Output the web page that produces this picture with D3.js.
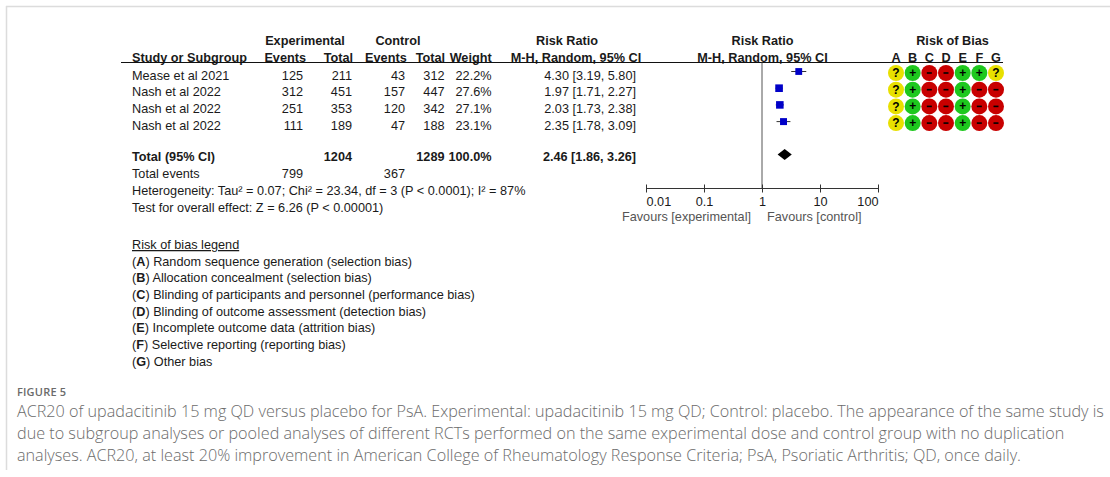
<!DOCTYPE html>
<html>
<head>
<meta charset="utf-8">
<script src="https://cdn.jsdelivr.net/npm/d3@7"></script>
<style>
  html, body { margin: 0; padding: 0; background: #fff; }
  svg { display: block; }
</style>
</head>
<body>
<svg id="fig" width="1110" height="477"></svg>
<script>
// ---- data ----
const studies     = ["Mease et al 2021", "Nash et al 2022", "Nash et al 2022", "Nash et al 2022"];
const expEvents   = [125, 312, 251, 111];
const expTotal    = [211, 451, 353, 189];
const ctrlEvents  = [43, 157, 120, 47];
const ctrlTotal   = [312, 447, 342, 188];
const weights     = [22.2, 27.6, 27.1, 23.1];
const riskRatio   = [4.30, 1.97, 2.03, 2.35];
const ciLower     = [3.19, 1.71, 1.73, 1.78];
const ciUpper     = [5.80, 2.27, 2.38, 3.09];
const biasDomains = ["A", "B", "C", "D", "E", "F", "G"];
const biasJudgements = [
  ["?", "+", "-", "-", "+", "+", "?"],
  ["?", "+", "-", "-", "+", "-", "-"],
  ["?", "+", "-", "-", "+", "-", "-"],
  ["?", "+", "-", "-", "+", "-", "-"]
];
const pooledRR    = [2.46, 1.86, 3.26];   // estimate, lower, upper
const totals      = { expTotal: 1204, ctrlTotal: 1289, weight: "100.0%", expEvents: 799, ctrlEvents: 367 };
const axisTicks   = [0.01, 0.1, 1, 10, 100];
const tickLabels  = ["0.01", "0.1", "1", "10", "100"];
const legendItems = [
  ["A", "Random sequence generation (selection bias)"],
  ["B", "Allocation concealment (selection bias)"],
  ["C", "Blinding of participants and personnel (performance bias)"],
  ["D", "Blinding of outcome assessment (detection bias)"],
  ["E", "Incomplete outcome data (attrition bias)"],
  ["F", "Selective reporting (reporting bias)"],
  ["G", "Other bias"]
];
const captionLines = [
  "ACR20 of upadacitinib 15 mg QD versus placebo for PsA. Experimental: upadacitinib 15 mg QD; Control: placebo. The appearance of the same study is",
  "due to subgroup analyses or pooled analyses of different RCTs performed on the same experimental dose and control group with no duplication",
  "analyses. ACR20, at least 20% improvement in American College of Rheumatology Response Criteria; PsA, Psoriatic Arthritis; QD, once daily."
];

// ---- layout ----
const svg = d3.select("#fig");
const FONT = "'Liberation Sans', Arial, sans-serif";
const FS = 12.7;
const INK = "#1a1a1a";
const base = 4.5;                 // centre-to-baseline offset for table text

const rowY = d3.scaleLinear().domain([0, 1]).range([75, 91.7]);
const col = { study: 132, expEv: 303, expTot: 352, ctrlEv: 405, ctrlTot: 444.5, weight: 491.5, rr: 636 };
const x = d3.scaleLog().domain([0.01, 100]).range([646, 878]);
const biasX = d3.scalePoint().domain(biasDomains).range([896, 996]);

// frame
svg.append("line").attr("x1", 6).attr("x2", 1110).attr("y1", 6.5).attr("y2", 6.5)
  .attr("stroke", "#dcdcdc").attr("stroke-width", 1.5);
svg.append("line").attr("x1", 6.5).attr("x2", 6.5).attr("y1", 6).attr("y2", 470)
  .attr("stroke", "#dcdcdc").attr("stroke-width", 1.5);

const g = svg.append("g").attr("font-family", FONT).attr("font-size", FS).attr("fill", INK);

function txt(s, xx, yy, anchor, bold) {
  return g.append("text").attr("x", xx).attr("y", yy).attr("text-anchor", anchor || "start")
    .attr("font-weight", bold ? "bold" : "normal").text(s);
}

// headers
const h1 = 40.5 + base, h2 = 57.5 + base;
txt("Experimental", 305, h1, "middle", true);
txt("Control", 398, h1, "middle", true);
txt("Risk Ratio", 567, h1, "middle", true);
txt("Risk Ratio", 762.5, h1, "middle", true);
txt("Risk of Bias", 952.5, h1, "middle", true);
txt("Study or Subgroup", col.study, h2, "start", true);
txt("Events", 306, h2, "end", true);
txt("Total", 353, h2, "end", true);
txt("Events", 406.7, h2, "end", true);
txt("Total", 445, h2, "end", true);
txt("Weight", 491.7, h2, "end", true);
txt("M-H, Random, 95% CI", 576, h2, "middle", true);
txt("M-H, Random, 95% CI", 762.5, h2, "middle", true);
biasDomains.forEach(d => txt(d, biasX(d), h2, "middle", true));
g.append("line").attr("x1", 121).attr("x2", 1003).attr("y1", 62.5).attr("y2", 62.5)
  .attr("stroke", "#111").attr("stroke-width", 1);

// study rows
studies.forEach((s, i) => {
  const y = rowY(i) + base;
  txt(s, col.study, y);
  txt(expEvents[i], col.expEv, y, "end");
  txt(expTotal[i], col.expTot, y, "end");
  txt(ctrlEvents[i], col.ctrlEv, y, "end");
  txt(ctrlTotal[i], col.ctrlTot, y, "end");
  txt(weights[i].toFixed(1) + "%", col.weight, y, "end");
  txt(`${riskRatio[i].toFixed(2)} [${ciLower[i].toFixed(2)}, ${ciUpper[i].toFixed(2)}]`, col.rr, y, "end");
});

// totals block
const yTot = 156;
txt("Total (95% CI)", col.study, yTot + base, "start", true);
txt(totals.expTotal, col.expTot, yTot + base, "end", true);
txt(totals.ctrlTotal, col.ctrlTot, yTot + base, "end", true);
txt(totals.weight, col.weight, yTot + base, "end", true);
txt(`${pooledRR[0].toFixed(2)} [${pooledRR[1].toFixed(2)}, ${pooledRR[2].toFixed(2)}]`, col.rr, yTot + base, "end", true);
txt("Total events", col.study, 173 + base);
txt(totals.expEvents, col.expEv, 173 + base, "end");
txt(totals.ctrlEvents, col.ctrlEv, 173 + base, "end");
txt("Heterogeneity: Tau\u00B2 = 0.07; Chi\u00B2 = 23.34, df = 3 (P < 0.0001); I\u00B2 = 87%", col.study, 190 + base);
txt("Test for overall effect: Z = 6.26 (P < 0.00001)", col.study, 207 + base);

// forest plot
const axisY = 188.5;
g.append("line").attr("x1", x(1)).attr("x2", x(1)).attr("y1", 62.5).attr("y2", axisY)
  .attr("stroke", "#555").attr("stroke-width", 1);

const plot = svg.append("g");
studies.forEach((s, i) => {
  const cy = rowY(i) - 3.5;
  plot.append("line").attr("x1", x(ciLower[i])).attr("x2", x(ciUpper[i]))
    .attr("y1", cy).attr("y2", cy).attr("stroke", "#333").attr("stroke-width", 1);
  const sz = 1.45 * Math.sqrt(weights[i]);
  plot.append("rect").attr("x", x(riskRatio[i]) - sz / 2).attr("y", cy - sz / 2)
    .attr("width", sz).attr("height", sz).attr("fill", "#0000c8");
});
const dy = 154.5, dh = 5.5;
plot.append("path")
  .attr("d", `M${x(pooledRR[1])},${dy} L${x(pooledRR[0])},${dy - dh} L${x(pooledRR[2])},${dy} L${x(pooledRR[0])},${dy + dh} Z`)
  .attr("fill", "#000");

// log axis
const ax = svg.append("g").attr("transform", `translate(0,${axisY})`)
  .call(d3.axisBottom(x).tickValues(axisTicks).tickSize(4).tickFormat((d, i) => tickLabels[i]));
ax.select(".domain").attr("stroke", "#333").attr("d", `M${x(0.01)},0H${x(100)}`);
ax.selectAll(".tick line").attr("stroke", "#333").attr("y1", -4).attr("y2", 4);
ax.selectAll(".tick text").attr("font-family", FONT).attr("font-size", FS).attr("fill", INK)
  .attr("y", 8).attr("dy", "0.71em")
  .attr("text-anchor", (d, i) => i === 0 ? "start" : (i === axisTicks.length - 1 ? "end" : "middle"));
txt("Favours [experimental]", 751, 216.5 + base, "end").attr("fill", "#555");
txt("Favours [control]", 767, 216.5 + base, "start").attr("fill", "#555");

// risk of bias dots
const biasFill = { "?": "#e8e000", "+": "#1ec81e", "-": "#c80000" };
biasJudgements.forEach((row, i) => {
  const cy = rowY(i) - 2;
  row.forEach((j, k) => {
    const cx = biasX(biasDomains[k]);
    svg.append("circle").attr("cx", cx).attr("cy", cy).attr("r", 8).attr("fill", biasFill[j]);
    if (j === "-") {
      svg.append("line").attr("x1", cx - 2.5).attr("x2", cx + 2.5).attr("y1", cy).attr("y2", cy)
        .attr("stroke", "#000").attr("stroke-width", 1.6);
    } else {
      svg.append("text").attr("x", cx).attr("y", cy + (j === "?" ? 4.2 : 4))
        .attr("text-anchor", "middle").attr("font-family", FONT).attr("font-weight", "bold")
        .attr("font-size", j === "?" ? 12 : 12).attr("fill", "#000").text(j);
    }
  });
});

// risk of bias legend
txt("Risk of bias legend ", col.study, 244.5 + base).attr("text-decoration", "underline");
legendItems.forEach(([k, label], i) => {
  const t = txt("", col.study, 261 + i * 16.7 + base);
  t.append("tspan").text("(");
  t.append("tspan").attr("font-weight", "bold").text(k);
  t.append("tspan").text(") " + label);
});

// figure caption
const cap = svg.append("g").attr("fill", "#6b6b6b");
cap.append("text").attr("x", 17).attr("y", 396).attr("font-family", "'Open Sans', sans-serif")
  .attr("font-size", 11).attr("font-weight", 600).attr("letter-spacing", 0.2).text("FIGURE 5");
const capText = cap.selectAll("text.line").data(captionLines).join("text").attr("class", "line")
  .attr("x", 17).attr("y", (d, i) => 416.5 + i * 22)
  .attr("font-family", "'Open Sans', sans-serif").attr("font-size", 15).attr("font-weight", 300)
  .text(d => d);
// size caption so that the first line spans the text block width
const w0 = capText.node().getComputedTextLength();
capText.attr("font-size", 15 * 1088 / w0);
</script>
</body>
</html>
